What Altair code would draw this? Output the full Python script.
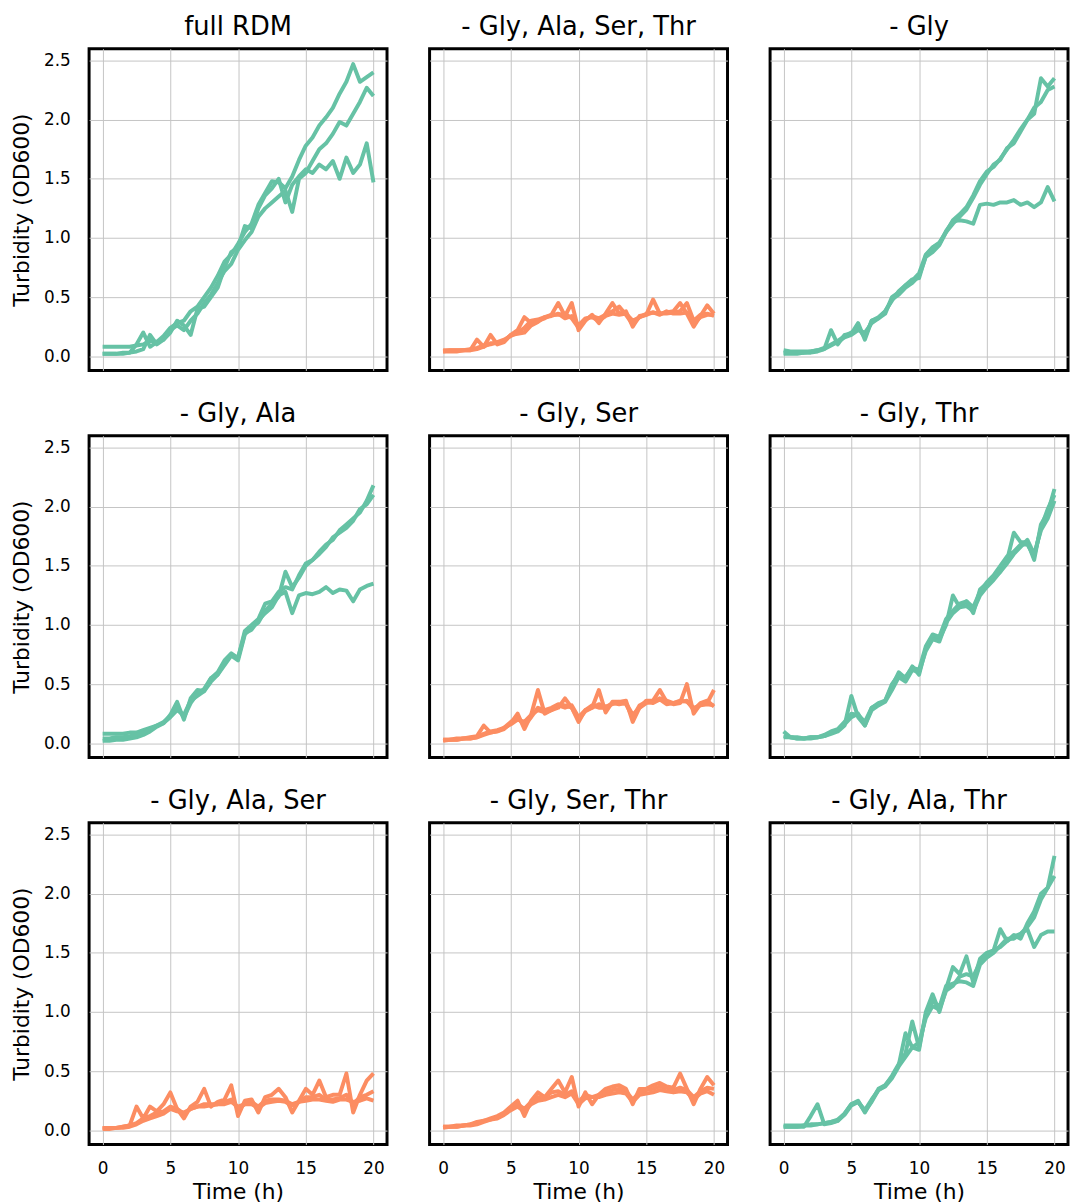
import altair as alt
import pandas as pd

# Sampling times (h), every 30 min over 20 h
TIME = [i * 0.5 for i in range(41)]

PANELS = [
    "full RDM",
    "- Gly, Ala, Ser, Thr",
    "- Gly",
    "- Gly, Ala",
    "- Gly, Ser",
    "- Gly, Thr",
    "- Gly, Ala, Ser",
    "- Gly, Ser, Thr",
    "- Gly, Ala, Thr",
]
NO_GROWTH = {"- Gly, Ala, Ser, Thr", "- Gly, Ser", "- Gly, Ala, Ser", "- Gly, Ser, Thr"}

# OD600 readings, three replicate wells per medium
full_rdm = [
    [0.08, 0.08, 0.08, 0.08, 0.08, 0.09, 0.10, 0.13, 0.12, 0.17,
     0.24, 0.28, 0.30, 0.38, 0.42, 0.50, 0.58, 0.68, 0.80, 0.86,
     0.95, 1.05, 1.12, 1.28, 1.38, 1.48, 1.47, 1.42, 1.52, 1.66,
     1.78, 1.85, 1.95, 2.02, 2.10, 2.22, 2.32, 2.47, 2.32, 2.36, 2.40],
    [0.02, 0.02, 0.02, 0.02, 0.03, 0.10, 0.20, 0.08, 0.12, 0.14,
     0.22, 0.26, 0.22, 0.30, 0.36, 0.45, 0.52, 0.62, 0.72, 0.78,
     0.90, 0.98, 1.05, 1.18, 1.25, 1.30, 1.35, 1.40, 1.22, 1.50,
     1.55, 1.65, 1.75, 1.80, 1.88, 1.98, 1.95, 2.05, 2.15, 2.27, 2.20],
    [0.02, 0.02, 0.02, 0.03, 0.03, 0.04, 0.06, 0.18, 0.10, 0.14,
     0.20, 0.30, 0.26, 0.18, 0.40, 0.42, 0.50, 0.58, 0.75, 0.88,
     0.92, 1.10, 1.08, 1.25, 1.36, 1.42, 1.50, 1.30, 1.45, 1.52,
     1.58, 1.55, 1.62, 1.58, 1.65, 1.50, 1.68, 1.55, 1.62, 1.80, 1.47],
]
minus_gast = [
    [0.04, 0.04, 0.04, 0.05, 0.05, 0.14, 0.08, 0.18, 0.10, 0.12,
     0.18, 0.22, 0.33, 0.28, 0.30, 0.32, 0.35, 0.45, 0.34, 0.45,
     0.22, 0.30, 0.35, 0.28, 0.36, 0.45, 0.36, 0.38, 0.25, 0.34,
     0.35, 0.48, 0.36, 0.37, 0.38, 0.45, 0.36, 0.25, 0.34, 0.43, 0.36],
    [0.05, 0.05, 0.05, 0.05, 0.06, 0.07, 0.09, 0.10, 0.12, 0.14,
     0.17, 0.20, 0.24, 0.30, 0.31, 0.33, 0.34, 0.36, 0.32, 0.34,
     0.26, 0.32, 0.33, 0.30, 0.34, 0.36, 0.35, 0.36, 0.30, 0.33,
     0.35, 0.37, 0.36, 0.36, 0.37, 0.38, 0.45, 0.30, 0.35, 0.36, 0.34],
    [0.04, 0.05, 0.05, 0.05, 0.05, 0.06, 0.08, 0.11, 0.11, 0.13,
     0.18, 0.19, 0.20, 0.26, 0.29, 0.33, 0.35, 0.35, 0.36, 0.32,
     0.24, 0.31, 0.34, 0.32, 0.35, 0.38, 0.42, 0.35, 0.27, 0.33,
     0.36, 0.37, 0.35, 0.38, 0.36, 0.36, 0.37, 0.28, 0.33, 0.35, 0.35],
]
minus_g = [
    [0.05, 0.04, 0.04, 0.04, 0.04, 0.05, 0.06, 0.22, 0.10, 0.18,
     0.19, 0.28, 0.14, 0.30, 0.32, 0.36, 0.50, 0.54, 0.60, 0.64,
     0.70, 0.86, 0.92, 0.96, 1.05, 1.15, 1.20, 1.26, 1.36, 1.48,
     1.56, 1.60, 1.67, 1.75, 1.83, 1.92, 2.00, 2.05, 2.35, 2.28, 2.35],
    [0.02, 0.02, 0.02, 0.03, 0.03, 0.04, 0.06, 0.09, 0.12, 0.16,
     0.18, 0.22, 0.20, 0.28, 0.32, 0.38, 0.48, 0.52, 0.58, 0.62,
     0.68, 0.84, 0.88, 0.94, 1.05, 1.12, 1.18, 1.24, 1.34, 1.45,
     1.54, 1.62, 1.66, 1.76, 1.80, 1.90, 2.00, 2.10, 2.15, 2.25, 2.28],
    [0.03, 0.03, 0.03, 0.03, 0.04, 0.05, 0.07, 0.10, 0.13, 0.17,
     0.20, 0.24, 0.16, 0.30, 0.33, 0.38, 0.47, 0.55, 0.60, 0.65,
     0.66, 0.85, 0.92, 0.95, 1.06, 1.14, 1.15, 1.14, 1.12, 1.28,
     1.29, 1.28, 1.30, 1.30, 1.32, 1.28, 1.30, 1.26, 1.30, 1.43, 1.31],
]
minus_ga = [
    [0.08, 0.08, 0.08, 0.08, 0.09, 0.09, 0.11, 0.13, 0.15, 0.17,
     0.24, 0.35, 0.20, 0.38, 0.45, 0.44, 0.55, 0.60, 0.70, 0.76,
     0.72, 0.95, 1.00, 1.05, 1.18, 1.20, 1.28, 1.32, 1.30, 1.42,
     1.52, 1.55, 1.62, 1.68, 1.72, 1.80, 1.85, 1.90, 1.95, 2.05, 2.18],
    [0.02, 0.02, 0.03, 0.03, 0.04, 0.05, 0.07, 0.10, 0.14, 0.17,
     0.22, 0.28, 0.24, 0.36, 0.40, 0.44, 0.52, 0.58, 0.66, 0.74,
     0.70, 0.92, 0.98, 1.02, 1.12, 1.18, 1.24, 1.45, 1.32, 1.40,
     1.50, 1.55, 1.60, 1.66, 1.74, 1.78, 1.82, 1.88, 1.98, 2.02, 2.10],
    [0.04, 0.04, 0.05, 0.05, 0.06, 0.07, 0.09, 0.12, 0.15, 0.18,
     0.23, 0.30, 0.22, 0.34, 0.42, 0.46, 0.55, 0.58, 0.68, 0.75,
     0.72, 0.93, 0.96, 1.04, 1.10, 1.15, 1.25, 1.28, 1.10, 1.25,
     1.27, 1.26, 1.28, 1.32, 1.27, 1.30, 1.29, 1.20, 1.30, 1.33, 1.35],
]
minus_gs = [
    [0.03, 0.03, 0.04, 0.04, 0.05, 0.06, 0.15, 0.09, 0.10, 0.12,
     0.17, 0.25, 0.12, 0.24, 0.45, 0.25, 0.28, 0.30, 0.38, 0.30,
     0.18, 0.28, 0.30, 0.45, 0.26, 0.35, 0.35, 0.36, 0.18, 0.30,
     0.36, 0.36, 0.45, 0.35, 0.33, 0.34, 0.50, 0.25, 0.33, 0.34, 0.45],
    [0.03, 0.03, 0.03, 0.04, 0.04, 0.05, 0.07, 0.09, 0.10, 0.13,
     0.16, 0.20, 0.18, 0.24, 0.28, 0.26, 0.28, 0.32, 0.30, 0.32,
     0.22, 0.28, 0.32, 0.30, 0.30, 0.34, 0.33, 0.34, 0.24, 0.30,
     0.34, 0.35, 0.38, 0.36, 0.34, 0.36, 0.35, 0.30, 0.32, 0.33, 0.32],
    [0.02, 0.03, 0.03, 0.04, 0.04, 0.05, 0.08, 0.10, 0.11, 0.13,
     0.18, 0.22, 0.15, 0.22, 0.30, 0.28, 0.30, 0.33, 0.32, 0.30,
     0.20, 0.27, 0.30, 0.33, 0.31, 0.33, 0.35, 0.33, 0.22, 0.32,
     0.35, 0.34, 0.37, 0.33, 0.34, 0.35, 0.36, 0.28, 0.34, 0.36, 0.31],
]
minus_gt = [
    [0.10, 0.05, 0.04, 0.04, 0.04, 0.05, 0.06, 0.08, 0.10, 0.15,
     0.40, 0.22, 0.15, 0.30, 0.33, 0.36, 0.48, 0.60, 0.55, 0.65,
     0.58, 0.80, 0.90, 0.88, 1.00, 1.25, 1.15, 1.20, 1.10, 1.30,
     1.35, 1.40, 1.45, 1.55, 1.78, 1.70, 1.70, 1.55, 1.85, 1.95, 2.15],
    [0.05, 0.05, 0.04, 0.04, 0.05, 0.05, 0.06, 0.09, 0.11, 0.16,
     0.22, 0.25, 0.15, 0.28, 0.32, 0.35, 0.45, 0.56, 0.52, 0.62,
     0.60, 0.78, 0.88, 0.86, 1.02, 1.10, 1.15, 1.16, 1.12, 1.25,
     1.32, 1.38, 1.45, 1.52, 1.60, 1.66, 1.72, 1.60, 1.80, 1.90, 2.05],
    [0.06, 0.05, 0.05, 0.04, 0.05, 0.05, 0.07, 0.10, 0.12, 0.18,
     0.25, 0.24, 0.18, 0.30, 0.34, 0.36, 0.50, 0.58, 0.56, 0.64,
     0.62, 0.82, 0.92, 0.90, 1.05, 1.12, 1.18, 1.20, 1.15, 1.28,
     1.36, 1.42, 1.50, 1.58, 1.62, 1.68, 1.68, 1.58, 1.82, 1.98, 2.10],
]
minus_gas = [
    [0.02, 0.02, 0.02, 0.03, 0.04, 0.20, 0.10, 0.20, 0.16, 0.22,
     0.32, 0.18, 0.10, 0.20, 0.24, 0.35, 0.20, 0.24, 0.26, 0.38,
     0.12, 0.25, 0.26, 0.15, 0.28, 0.30, 0.35, 0.28, 0.15, 0.25,
     0.35, 0.30, 0.42, 0.28, 0.30, 0.30, 0.48, 0.15, 0.30, 0.42, 0.48],
    [0.02, 0.02, 0.02, 0.03, 0.04, 0.06, 0.10, 0.12, 0.15, 0.16,
     0.20, 0.18, 0.14, 0.18, 0.20, 0.22, 0.22, 0.22, 0.24, 0.26,
     0.18, 0.22, 0.24, 0.20, 0.25, 0.26, 0.26, 0.25, 0.22, 0.24,
     0.28, 0.28, 0.30, 0.26, 0.26, 0.27, 0.30, 0.22, 0.28, 0.30, 0.33],
    [0.01, 0.01, 0.02, 0.02, 0.03, 0.05, 0.08, 0.10, 0.12, 0.14,
     0.18, 0.16, 0.15, 0.18, 0.20, 0.20, 0.21, 0.22, 0.22, 0.24,
     0.20, 0.22, 0.22, 0.19, 0.23, 0.24, 0.25, 0.24, 0.21, 0.24,
     0.25, 0.26, 0.26, 0.25, 0.24, 0.26, 0.26, 0.24, 0.25, 0.27, 0.25],
]
minus_gst = [
    [0.03, 0.03, 0.04, 0.04, 0.05, 0.07, 0.08, 0.10, 0.12, 0.15,
     0.20, 0.25, 0.12, 0.25, 0.32, 0.28, 0.35, 0.42, 0.32, 0.45,
     0.20, 0.32, 0.22, 0.30, 0.35, 0.37, 0.38, 0.35, 0.22, 0.35,
     0.35, 0.38, 0.40, 0.37, 0.36, 0.48, 0.35, 0.22, 0.35, 0.45, 0.38],
    [0.03, 0.03, 0.03, 0.04, 0.05, 0.06, 0.08, 0.09, 0.11, 0.14,
     0.18, 0.22, 0.18, 0.24, 0.28, 0.28, 0.32, 0.33, 0.30, 0.33,
     0.24, 0.30, 0.28, 0.30, 0.32, 0.34, 0.35, 0.33, 0.26, 0.32,
     0.34, 0.35, 0.37, 0.36, 0.34, 0.36, 0.34, 0.28, 0.33, 0.36, 0.35],
    [0.02, 0.03, 0.03, 0.04, 0.04, 0.05, 0.07, 0.09, 0.10, 0.13,
     0.17, 0.20, 0.16, 0.22, 0.25, 0.26, 0.28, 0.30, 0.28, 0.31,
     0.22, 0.27, 0.28, 0.28, 0.30, 0.31, 0.32, 0.31, 0.24, 0.30,
     0.31, 0.32, 0.34, 0.33, 0.32, 0.33, 0.32, 0.26, 0.31, 0.33, 0.30],
]
minus_gat = [
    [0.03, 0.03, 0.03, 0.03, 0.12, 0.22, 0.05, 0.06, 0.08, 0.14,
     0.22, 0.25, 0.15, 0.25, 0.35, 0.38, 0.45, 0.55, 0.82, 0.70,
     0.68, 1.00, 1.15, 1.00, 1.20, 1.38, 1.32, 1.47, 1.25, 1.45,
     1.50, 1.52, 1.70, 1.60, 1.65, 1.62, 1.75, 1.85, 2.00, 2.05, 2.32],
    [0.03, 0.03, 0.03, 0.04, 0.04, 0.05, 0.06, 0.07, 0.08, 0.13,
     0.21, 0.24, 0.17, 0.26, 0.34, 0.37, 0.44, 0.54, 0.62, 0.70,
     0.74, 0.95, 1.05, 1.02, 1.18, 1.22, 1.30, 1.32, 1.30, 1.42,
     1.48, 1.52, 1.55, 1.60, 1.64, 1.66, 1.72, 1.80, 1.95, 2.05, 2.15],
    [0.04, 0.04, 0.04, 0.04, 0.05, 0.05, 0.06, 0.07, 0.09, 0.14,
     0.22, 0.24, 0.16, 0.24, 0.34, 0.38, 0.46, 0.56, 0.65, 0.92,
     0.70, 0.98, 1.10, 1.04, 1.22, 1.24, 1.26, 1.25, 1.22, 1.40,
     1.46, 1.50, 1.56, 1.62, 1.62, 1.66, 1.70, 1.55, 1.65, 1.68, 1.68],
]

SERIES = [full_rdm, minus_gast, minus_g, minus_ga, minus_gs,
          minus_gt, minus_gas, minus_gst, minus_gat]

GREEN = "#66c2a5"
ORANGE = "#fc8d62"

rows = []
for panel, reps in zip(PANELS, SERIES):
    kind = "none" if panel in NO_GROWTH else "growth"
    for r, values in enumerate(reps):
        for t, od in zip(TIME, values):
            rows.append({"panel": panel, "rep": r, "t": t, "od": od, "kind": kind})
df = pd.DataFrame(rows)

FONT = "DejaVu Sans"

lines = alt.Chart(df).mark_line(strokeWidth=4, strokeJoin="round", clip=True).encode(
    x=alt.X("t:Q",
            scale=alt.Scale(domain=[-1, 21], nice=False, zero=False),
            axis=alt.Axis(values=[0, 5, 10, 15, 20], title="Time (h)")),
    y=alt.Y("od:Q",
            scale=alt.Scale(domain=[-0.12, 2.6], nice=False),
            axis=alt.Axis(values=[0, 0.5, 1.0, 1.5, 2.0, 2.5], format=".1f",
                          title="Turbidity (OD600)")),
    color=alt.Color("kind:N",
                    scale=alt.Scale(domain=["growth", "none"], range=[GREEN, ORANGE]),
                    legend=None),
    detail="rep:N",
).properties(width=301, height=325)

chart = lines.facet(
    facet=alt.Facet("panel:N", sort=PANELS,
                    header=alt.Header(title=None, labelFontSize=26, labelFont=FONT,
                                      labelColor="black", labelPadding=9)),
    columns=3,
    spacing={"row": 27, "column": 39},
).configure(
    padding={"left": 10, "top": 6, "right": 0, "bottom": 0},
).configure_view(
    stroke="black", strokeWidth=3,
).configure_axis(
    grid=True, gridColor="#c4c4c4", gridWidth=1,
    domain=False, ticks=False,
    labelFont=FONT, labelFontSize=17, labelColor="black",
    titleFont=FONT, titleFontSize=22, titleFontWeight="normal", titleColor="black",
).configure_axisY(
    labelPadding=17, titlePadding=10,
).configure_axisX(
    labelPadding=14, titlePadding=6,
)

chart.save("out.html", embed_options={"renderer": "svg", "actions": False})
